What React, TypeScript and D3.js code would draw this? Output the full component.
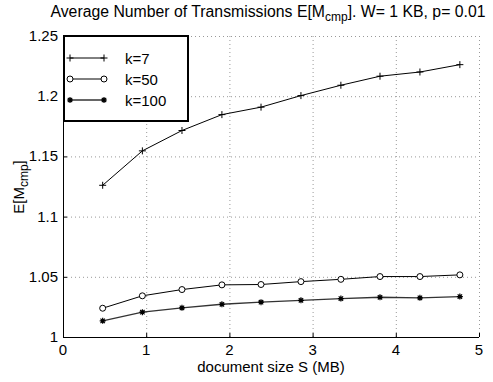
import React, { useEffect, useRef } from 'react';
import * as d3 from 'd3';

// document sizes (MB)
const sizes = [0.477, 0.954, 1.43, 1.91, 2.38, 2.86, 3.34, 3.81, 4.29, 4.77];
const k7 = [1.126, 1.1546, 1.1715, 1.1847, 1.1909, 1.2005, 1.2091, 1.2166, 1.2201, 1.2262];
const k50 = [1.0239, 1.0342, 1.0394, 1.0433, 1.0436, 1.046, 1.0479, 1.0502, 1.0502, 1.0516];
const k100 = [1.0134, 1.0206, 1.0242, 1.0272, 1.0289, 1.0305, 1.0319, 1.033, 1.0325, 1.0336];
const seriesNames = ['k=7', 'k=50', 'k=100'];
const xTicks = [0, 1, 2, 3, 4, 5];
const yTicks = [1, 1.05, 1.1, 1.15, 1.2, 1.25];

export default function App() {
  const ref = useRef<SVGSVGElement>(null);

  useEffect(() => {
    const svg = d3.select(ref.current);
    svg.selectAll('*').remove();
    const font = "'Liberation Sans', Arial, sans-serif";

    const x = d3.scaleLinear().domain([0, 5]).range([63, 479]);
    const y = d3.scaleLinear().domain([1, 1.25]).range([337, 36]);

    // grid
    const grid = svg.append('g').attr('stroke', '#999').attr('stroke-width', 1).attr('stroke-dasharray', '1,3');
    xTicks.slice(1).forEach(t => {
      grid.append('line').attr('x1', x(t) + 0.5).attr('x2', x(t) + 0.5).attr('y1', y(1.25)).attr('y2', y(1));
    });
    yTicks.slice(1).forEach(t => {
      grid.append('line').attr('x1', x(0)).attr('x2', x(5)).attr('y1', y(t) + 0.5).attr('y2', y(t) + 0.5);
    });

    // axes
    const ax = svg.append('g').attr('stroke', '#000').attr('stroke-width', 1);
    ax.append('line').attr('x1', x(0) + 0.5).attr('x2', x(0) + 0.5).attr('y1', y(1.25)).attr('y2', y(1) + 0.5);
    ax.append('line').attr('x1', x(0)).attr('x2', x(5)).attr('y1', y(1) + 0.5).attr('y2', y(1) + 0.5);
    xTicks.forEach(t => {
      ax.append('line').attr('x1', x(t) + 0.5).attr('x2', x(t) + 0.5).attr('y1', y(1)).attr('y2', y(1) - 4);
    });
    yTicks.forEach(t => {
      ax.append('line').attr('x1', x(0)).attr('x2', x(0) + 4).attr('y1', y(t) + 0.5).attr('y2', y(t) + 0.5);
    });

    svg.append('g').selectAll('text').data(xTicks).enter().append('text')
      .attr('x', d => x(d)).attr('y', y(1) + 18)
      .attr('text-anchor', 'middle').attr('font-family', font).attr('font-size', 15)
      .text(d => String(d));
    svg.append('g').selectAll('text').data(yTicks).enter().append('text')
      .attr('x', x(0) - 5).attr('y', d => y(d) + 5)
      .attr('text-anchor', 'end').attr('font-family', font).attr('font-size', 15)
      .text(d => String(d));

    // series
    const data = [k7, k50, k100];
    const colors = ['#000', '#000', '#333'];
    const line = d3.line<number>().x((d, i) => x(sizes[i])).y(d => y(d));

    function marker(g: any, type: number, cx: number, cy: number) {
      if (type === 0) {
        g.append('path').attr('d', `M${cx - 3.5},${cy}H${cx + 3.5}M${cx},${cy - 3.5}V${cy + 3.5}`)
          .attr('stroke', '#000').attr('stroke-width', 1);
      } else if (type === 1) {
        g.append('circle').attr('cx', cx).attr('cy', cy).attr('r', 3)
          .attr('fill', 'white').attr('stroke', '#000').attr('stroke-width', 1);
      } else {
        g.append('path').attr('d', `M${cx - 3},${cy}H${cx + 3}M${cx},${cy - 3}V${cy + 3}M${cx - 2.2},${cy - 2.2}L${cx + 2.2},${cy + 2.2}M${cx - 2.2},${cy + 2.2}L${cx + 2.2},${cy - 2.2}`)
          .attr('stroke', '#000').attr('stroke-width', 1.2);
        g.append('circle').attr('cx', cx).attr('cy', cy).attr('r', 1.8).attr('fill', '#000');
      }
    }

    data.forEach((vals, s) => {
      const g = svg.append('g');
      g.append('path').attr('d', line(vals)).attr('fill', 'none')
        .attr('stroke', colors[s]).attr('stroke-width', s === 2 ? 1.3 : 1);
      vals.forEach((v, i) => marker(g, s, x(sizes[i]), y(v)));
    });

    // legend
    const lg = svg.append('g');
    lg.append('rect').attr('x', 64).attr('y', 36).attr('width', 124).attr('height', 85)
      .attr('fill', 'white').attr('stroke', '#000').attr('stroke-width', 2);
    seriesNames.forEach((name, s) => {
      const ly = 58 + s * 21;
      lg.append('line').attr('x1', 70).attr('x2', 104).attr('y1', ly).attr('y2', ly)
        .attr('stroke', colors[s]).attr('stroke-width', s === 2 ? 1.3 : 1);
      marker(lg, s, 70, ly);
      marker(lg, s, 104, ly);
      lg.append('text').attr('x', 125).attr('y', ly + 5.5).attr('font-family', font).attr('font-size', 15).text(name);
    });

    // title
    const title = svg.append('text').attr('x', 268).attr('y', 17).attr('text-anchor', 'middle')
      .attr('font-family', font).attr('font-size', 15.8);
    title.append('tspan').text('Average Number of Transmissions E[M');
    title.append('tspan').attr('dy', 4).attr('font-size', 12).text('cmp');
    title.append('tspan').attr('dy', -4).text(']. W= 1 KB, p= 0.01');

    // axis labels
    svg.append('text').attr('x', 271).attr('y', 372).attr('text-anchor', 'middle')
      .attr('font-family', font).attr('font-size', 15).text('document size S (MB)');
    const yl = svg.append('text').attr('transform', 'translate(24,187) rotate(-90)').attr('text-anchor', 'middle')
      .attr('font-family', font).attr('font-size', 15);
    yl.append('tspan').text('E[M');
    yl.append('tspan').attr('dy', 4).attr('font-size', 12).text('cmp');
    yl.append('tspan').attr('dy', -4).text(']');
  }, []);

  return (
    <svg ref={ref} width={493} height={382} style={{ position: 'absolute', left: 0, top: 0, background: 'white' }}></svg>
  );
}
